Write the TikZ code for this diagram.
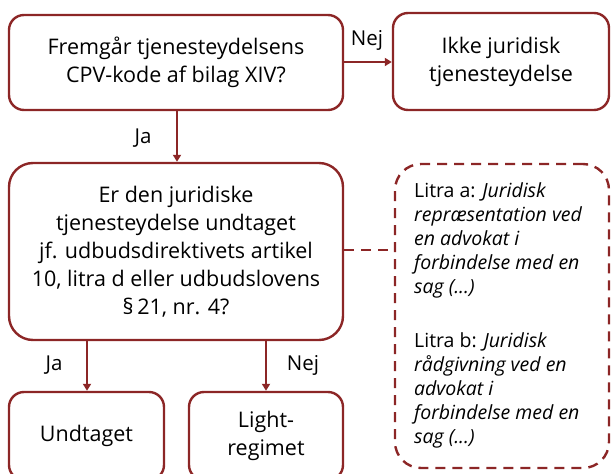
\documentclass[tikz,border=0pt]{standalone}
\usepackage{fontspec}
\setmainfont{Open Sans}
\usetikzlibrary{arrows.meta}
\definecolor{dred}{RGB}{140,38,38}
\tikzset{
  box/.style={draw=dred, line width=2.4pt, rounded corners=15pt, align=center, inner sep=0pt,
    font=\fontsize{21.5}{28}\selectfont, text=black},
  conn/.style={draw=dred, line width=2.2pt},
  arr/.style={conn, -{Triangle[length=7pt,width=8pt]}},
  lbl/.style={font=\fontsize{20.5}{24}\selectfont, text=black, inner sep=0pt},
}
\begin{document}
\begin{tikzpicture}[x=1pt,y=1pt]
\useasboundingbox (0,0) rectangle (611,474);
\clip (0,0) rectangle (611,474);
\node[box, minimum width=334pt, minimum height=95pt] (q1) at (176,411.5) {Fremgår tjenesteydelsens\\CPV-kode af bilag XIV?};
\node[box, minimum width=216pt, minimum height=97pt] (ikke) at (501,412.5) {Ikke juridisk\\tjenesteydelse};
\node[box, rounded corners=24pt, minimum width=334pt, minimum height=177pt] (q2) at (176,222.5) {Er den juridiske\\tjenesteydelse undtaget\\jf. udbudsdirektivets artikel\\10, litra d eller udbudslovens\\§\,21, nr. 4?};
\node[box, minimum width=155pt, minimum height=88pt] (undt) at (86.5,38) {Undtaget};
\node[box, minimum width=154pt, minimum height=88pt] (light) at (266,38) {Light-\\regimet};
\node[draw=dred, line width=2.4pt, dashed, dash pattern=on 10pt off 7pt, rounded corners=26pt,
  minimum width=214pt, minimum height=304pt] (lit) at (502,158) {};
\node[anchor=north west, align=left, inner sep=0pt, font=\fontsize{19.5}{24}\selectfont, text=black]
  (littxt) at (414,292) {Litra a: \textit{Juridisk}\\\textit{repræsentation ved}\\\textit{en advokat i}\\\textit{forbindelse med en}\\\textit{sag (...)}\\[30pt]Litra b: \textit{Juridisk}\\\textit{rådgivning ved en}\\\textit{advokat i}\\\textit{forbindelse med en}\\\textit{sag (...)}};
\draw[arr] (q1.south -| 177,0) -- (q2.north -| 177,0);
\draw[arr] (q1.east |- 0,412) -- (ikke.west |- 0,412);
\draw[arr] (q2.south -| 87,0) -- (undt.north -| 87,0);
\draw[arr] (q2.south -| 266,0) -- (light.north -| 266,0);
\draw[conn, dashed, dash pattern=on 10pt off 7pt] (q2.east |- 0,224) -- (lit.west |- 0,224);
\node[lbl] (lnej1) at (367,434) {Nej};
\node[lbl] (lja1) at (143,336) {Ja};
\node[lbl] (lja2) at (54,109) {Ja};
\node[lbl] (lnej2) at (303,109) {Nej};
\end{tikzpicture}
\end{document}
